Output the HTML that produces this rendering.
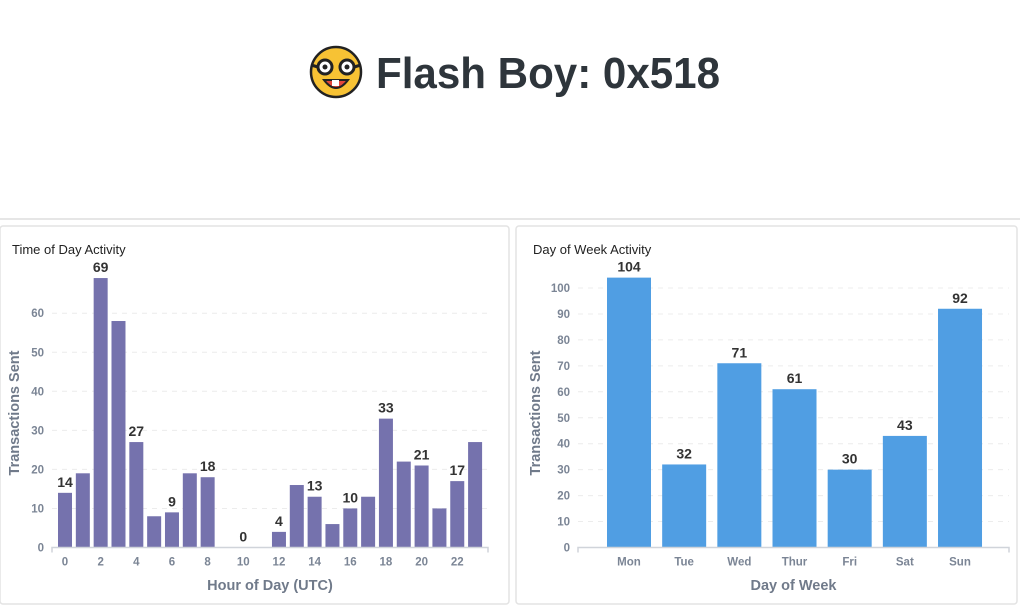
<!DOCTYPE html>
<html><head><meta charset="utf-8">
<style>
body{margin:0;width:1020px;height:607px;background:#fff;overflow:hidden;font-family:"Liberation Sans",sans-serif;}
svg text{font-family:"Liberation Sans",sans-serif;}
</style></head>
<body>
<svg width="1020" height="607" viewBox="0 0 1020 607">
  <g>
    <g>
      <circle cx="336" cy="72" r="25" fill="#f7c234" stroke="#222" stroke-width="2.5"/>
      <circle cx="325" cy="67" r="7" fill="#fff" stroke="#222" stroke-width="3"/>
      <circle cx="347" cy="67" r="7" fill="#fff" stroke="#222" stroke-width="3"/>
      <circle cx="325" cy="67" r="2.5" fill="#222"/>
      <circle cx="347" cy="67" r="2.5" fill="#222"/>
      <line x1="311" y1="65" x2="318" y2="67" stroke="#222" stroke-width="3"/>
      <line x1="354" y1="67" x2="361" y2="65" stroke="#222" stroke-width="3"/>
      <path d="M324 80 Q336 96 348 80 Z" fill="#e2463a" stroke="#222" stroke-width="2"/>
      <rect x="332" y="80" width="7" height="6" fill="#fff"/>
    </g>
    <text x="376" y="88" font-size="44" font-weight="bold" fill="#2e353b" textLength="344" lengthAdjust="spacingAndGlyphs">Flash Boy: 0x518</text>
  </g>
  <line x1="0" y1="219" x2="1020" y2="219" stroke="#e6e6e6" stroke-width="2"/>
  <rect x="0" y="226" width="509" height="378" fill="#fff" stroke="#e3e3e3" stroke-width="1.5" rx="3"/>
  <rect x="516" y="226" width="501" height="378" fill="#fff" stroke="#e3e3e3" stroke-width="1.5" rx="3"/>
  <g id="left"></g>
  <g id="right"></g>
</svg>
<script>
const hourCategories=[0,1,2,3,4,5,6,7,8,9,10,11,12,13,14,15,16,17,18,19,20,21,22,23];
const hourValues=[14,19,69,58,27,8,9,19,18,0,0,0,4,16,13,6,10,13,33,22,21,10,17,27];
const hourLabelShown=[0,2,4,6,8,10,12,14,16,18,20,22];
const hourTicks=[0,10,20,30,40,50,60];
const dayCategories=["Mon","Tue","Wed","Thur","Fri","Sat","Sun"];
const dayValues=[104,32,71,61,30,43,92];
const dayTicks=[0,10,20,30,40,50,60,70,80,90,100];
const NS="http://www.w3.org/2000/svg";
function mk(parent,tag,attrs,text){const e=document.createElementNS(NS,tag);for(const k in attrs)e.setAttribute(k,attrs[k]);if(text!==undefined)e.textContent=text;parent.appendChild(e);return e;}
function drawChart(g,cfg){
  const y=v=>cfg.y0-v*cfg.k;
  const x=i=>cfg.c0+i*cfg.slot;
  const t=mk(g,'text',{x:cfg.titleX,y:254,'font-size':13,fill:'#222'},cfg.title);
  
  
  cfg.ticks.forEach(v=>{
    if(v>0){const l=mk(g,'line',{x1:cfg.ax0,x2:cfg.ax1,y1:y(v),y2:y(v),stroke:'#ececec','stroke-dasharray':'5,5'});
      
      }
    const tl=mk(g,'text',{x:cfg.ax0-8,y:y(v)+4,'font-size':11.5,'font-weight':'bold',fill:'#7b8595','text-anchor':'end'},v);
    
    
  });
  cfg.values.forEach((v,i)=>{
    const h=v*cfg.k;
    const r=mk(g,'rect',{x:x(i)-cfg.bw/2,y:cfg.y0-h,width:cfg.bw,height:h,fill:cfg.color});
    
    
    if(cfg.showVal(i)){
      const vl=mk(g,'text',{x:x(i),y:y(v)-6,'font-size':14,'font-weight':'bold',fill:'#333','text-anchor':'middle'},v);
      
      
    }
    if(cfg.showCat(i)){
      const cl=mk(g,'text',{x:x(i),y:cfg.y0+18,'font-size':11.5,'font-weight':'bold',fill:'#7b8595','text-anchor':'middle'},cfg.cats[i]);
      
      
    }
  });
  mk(g,'path',{d:`M${cfg.ax0} ${cfg.y0+5}V${cfg.y0}H${cfg.ax1}V${cfg.y0+5}`,stroke:'#d0d4da',fill:'none','stroke-width':1.5});
  const xt=mk(g,'text',{x:(cfg.ax0+cfg.ax1)/2,y:590,'font-size':14.5,'font-weight':'bold',fill:'#707a8a','text-anchor':'middle'},cfg.xTitle);
  
  
  const yt=mk(g,'text',{x:0,y:0,'font-size':14.5,'font-weight':'bold',fill:'#707a8a','text-anchor':'middle',transform:`translate(${cfg.yTitleX},413) rotate(-90)`},'Transactions Sent');
  
  
}
drawChart(document.getElementById('left'),{title:'Time of Day Activity',titleX:12,y0:547.5,k:3.905,c0:65,slot:17.83,bw:14,ax0:52,ax1:488,
  values:hourValues,cats:hourCategories,ticks:hourTicks,color:'#7572ad',
  showVal:i=>[0,2,4,6,8,10,12,14,16,18,20,22].includes(i),
  showCat:i=>hourLabelShown.includes(hourCategories[i]),
  xTitle:'Hour of Day (UTC)',yTitleX:19});
drawChart(document.getElementById('right'),{title:'Day of Week Activity',titleX:533,y0:547.5,k:2.595,c0:629,slot:55.17,bw:44,ax0:578,ax1:1009,
  values:dayValues,cats:dayCategories,ticks:dayTicks,color:'#509ee3',
  showVal:i=>true,showCat:i=>true,
  xTitle:'Day of Week',yTitleX:540});
</script>
</body></html>
